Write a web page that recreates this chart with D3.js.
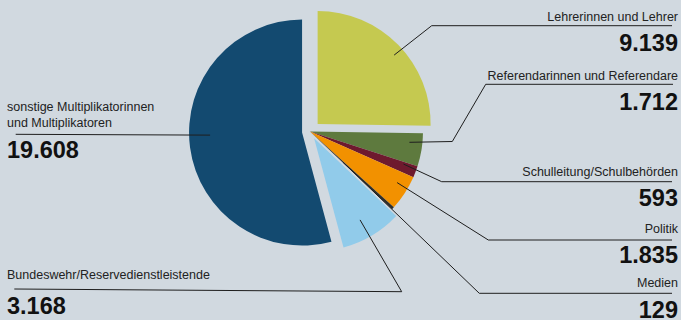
<!DOCTYPE html>
<html>
<head>
<meta charset="utf-8">
<script src="https://cdn.jsdelivr.net/npm/d3@7"></script>
<style>
  html, body { margin: 0; padding: 0; background: #d1d9e0; }
  svg { display: block; }
</style>
</head>
<body>
<div id="chart"></div>
<script>
// data
const categories = [
  "Lehrerinnen und Lehrer",
  "Referendarinnen und Referendare",
  "Schulleitung/Schulbehörden",
  "Politik",
  "Medien",
  "Bundeswehr/Reservedienstleistende",
  "sonstige Multiplikatorinnen und Multiplikatoren"
];
const values = [9139, 1712, 593, 1835, 129, 3168, 19608];
const colors = ["#c5c950", "#5e7a3e", "#6e1a2e", "#f29100", "#2e2e2a", "#91cbea", "#134a70"];
const explode = [10.7, 0, 0, 0, 0, 8, 8]; // offset of pulled-out slices

const width = 681, height = 320;
const cx = 310, cy = 131.5, radius = 113;

// label layout (text lines, baselines, leader anchor [deg, r], leader bend points)
const labelLayout = [
  {side: "right", lines: ["Lehrerinnen und Lehrer"], y: 20.7, vy: 50.7, anchor: [48, 103],
   path: [[431.7, 25.7], [672, 25.7]]},
  {side: "right", lines: ["Referendarinnen und Referendare"], y: 80, vy: 110, anchor: [96.2, 100],
   path: [[452.3, 141.5], [485.7, 84.3], [673, 84.3]]},
  {side: "right", lines: ["Schulleitung/Schulbehörden"], y: 176, vy: 206, anchor: [109.2, 99],
   path: [[441.7, 181.7], [672, 181.7]]},
  {side: "right", lines: ["Politik"], y: 233.3, vy: 263.3, anchor: [120.4, 101],
   path: [[488.3, 240], [672, 240]]},
  {side: "right", lines: ["Medien"], y: 287.3, vy: 317.5, anchor: [133, 45],
   path: [[479.3, 293.3], [672, 293.3]]},
  {side: "left", lines: ["Bundeswehr/Reservedienstleistende"], y: 279.3, vy: 314, anchor: [150.6, 93.6],
   path: [[401.7, 291.7], [14.3, 289]]},
  {side: "left", lines: ["sonstige Multiplikatorinnen", "und Multiplikatoren"], y: 110.7, vy: 158.3, anchor: [268.4, 92],
   path: [[15.7, 134.3]]}
];

const fmt = d3.formatLocale({decimal: ",", thousands: ".", grouping: [3], currency: ["", "€"]}).format(",");

const pie = d3.pie().sort(null).value(d => d);
const arcs = pie(values);
const arc = d3.arc().innerRadius(0).outerRadius(radius);

const svg = d3.select("#chart").append("svg")
    .attr("width", width)
    .attr("height", height)
    .attr("viewBox", [0, 0, width, height])
    .attr("font-family", "'Liberation Sans', Arial, sans-serif");

svg.append("rect").attr("width", width).attr("height", height).attr("fill", "#d1d9e0");

// slice centre incl. pull-out offset
function sliceCenter(a, i) {
  const mid = (a.startAngle + a.endAngle) / 2;
  return [cx + explode[i] * Math.sin(mid), cy - explode[i] * Math.cos(mid)];
}

svg.append("g")
  .selectAll("path")
  .data(arcs)
  .join("path")
    .attr("transform", (a, i) => `translate(${sliceCenter(a, i)})`)
    .attr("fill", (a, i) => colors[i])
    .attr("d", arc);

// leader lines
const line = d3.line();
svg.append("g")
    .attr("fill", "none")
    .attr("stroke", "#1e1e1e")
    .attr("stroke-width", 1)
  .selectAll("path")
  .data(labelLayout)
  .join("path")
    .attr("d", (l, i) => {
      const [c0, c1] = sliceCenter(arcs[i], i);
      const t = l.anchor[0] * Math.PI / 180;
      const start = [c0 + l.anchor[1] * Math.sin(t), c1 - l.anchor[1] * Math.cos(t)];
      return line([start, ...l.path]);
    });

// labels
const label = svg.append("g")
  .selectAll("g")
  .data(labelLayout)
  .join("g")
    .attr("text-anchor", l => l.side === "right" ? "end" : "start")
    .attr("transform", l => `translate(${l.side === "right" ? 678 : 7},0)`);

label.each(function(l) {
  const g = d3.select(this);
  l.lines.forEach((s, k) => {
    g.append("text")
        .attr("y", l.y + k * 16.6)
        .attr("font-size", 12.5)
        .attr("fill", "#222")
        .text(s);
  });
});

label.append("text")
    .attr("y", l => l.vy)
    .attr("font-size", 23.5)
    .attr("font-weight", "bold")
    .attr("fill", "#111")
    .text((l, i) => fmt(values[i]));
</script>
</body>
</html>
